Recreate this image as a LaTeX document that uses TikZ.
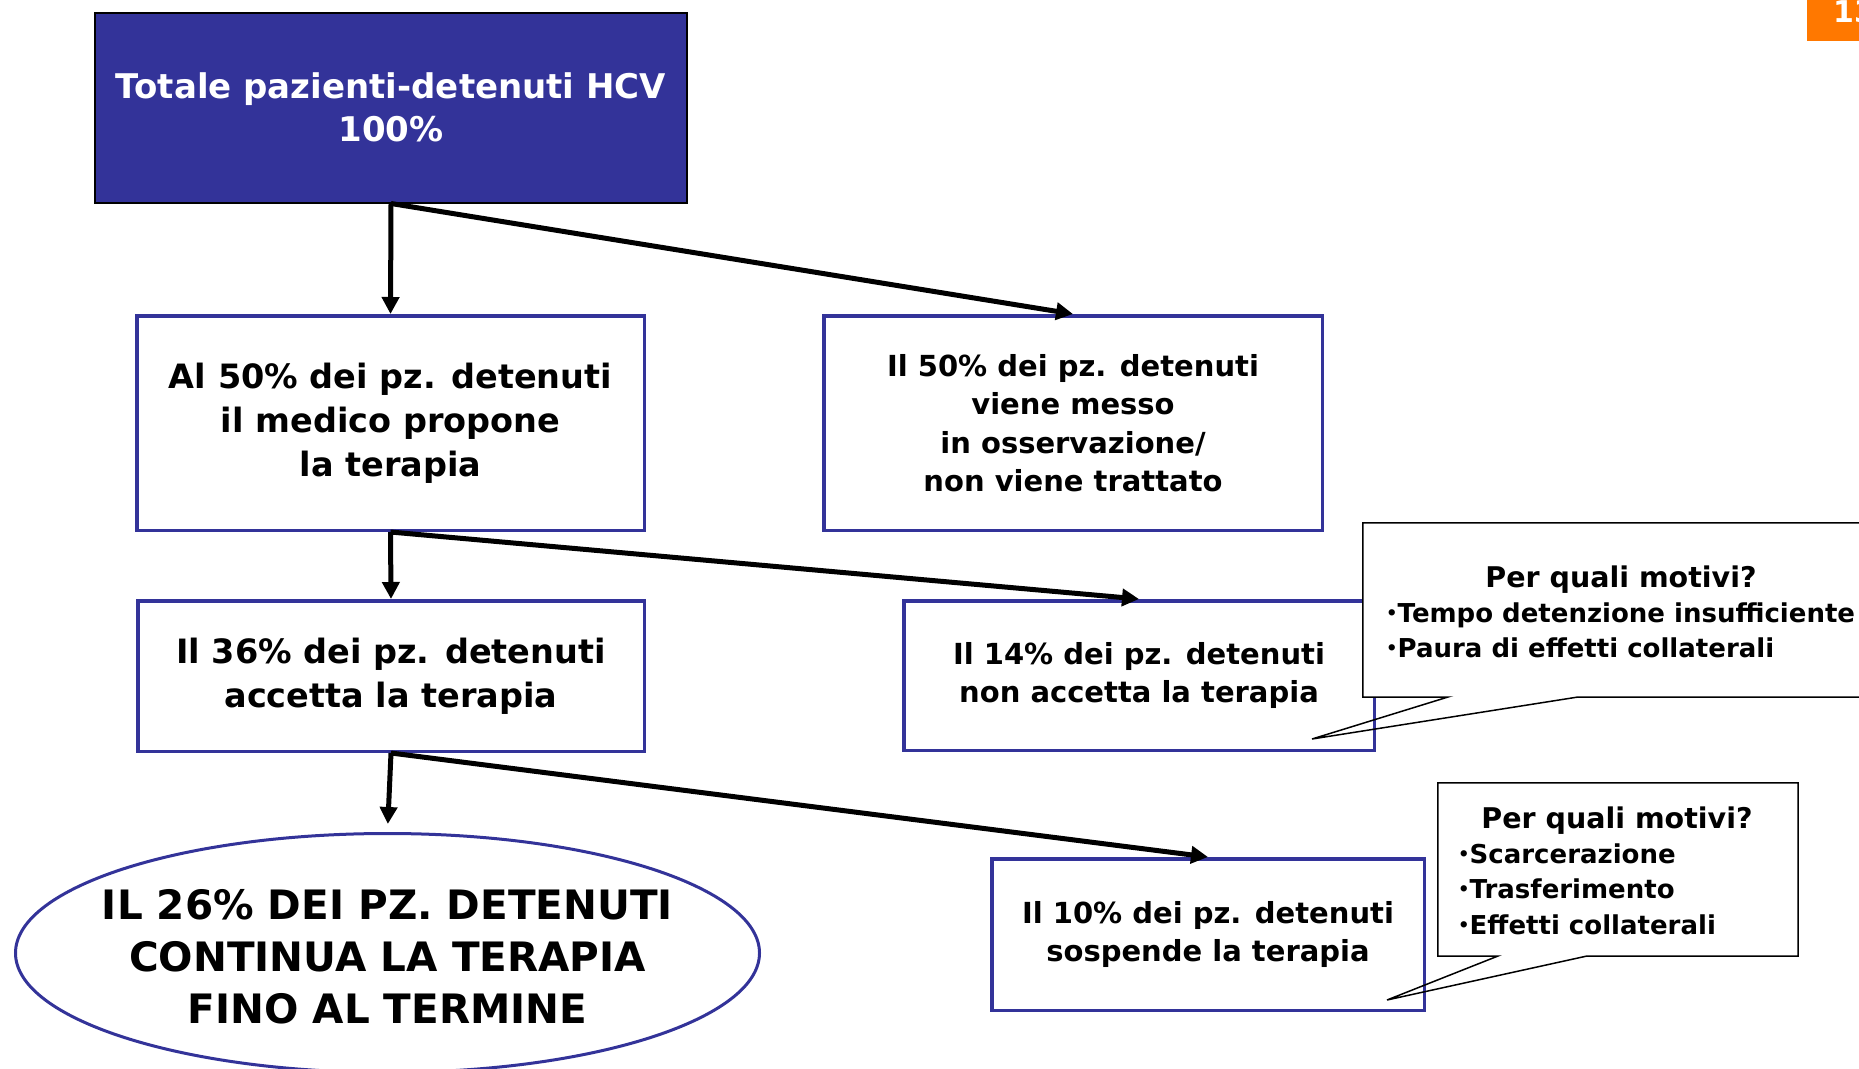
\documentclass[tikz,border=0pt]{standalone}
\usepackage{fontspec}
\setmainfont{DejaVu Sans}
\usetikzlibrary{arrows.meta,shapes.geometric}
\definecolor{hcvblue}{RGB}{51,51,153}
\definecolor{slideorange}{RGB}{255,120,0}
\newcommand\sbul{\raisebox{2.8pt}{\fontsize{18}{18}\selectfont•}}
\begin{document}
\begin{tikzpicture}[x=1pt,y=-1pt,
  box/.style={draw=hcvblue, line width=3.5pt, fill=white, align=center, inner sep=0pt,
    font=\bfseries\fontsize{33.5}{44}\selectfont},
  smallbox/.style={box, font=\bfseries\fontsize{29}{38.5}\selectfont},
  conn/.style={line width=5pt, -{Triangle[length=17pt,width=17pt]}},
  callout/.style={fill=white, draw=none, inner sep=0pt},
  callline/.style={draw=black, line width=1.5pt, line join=miter},
  calltitle/.style={font=\bfseries\fontsize{28.5}{35}\selectfont, inner sep=0pt},
  calltext/.style={font=\bfseries\fontsize{26}{35}\selectfont, inner sep=0pt}
]
\useasboundingbox (0,0) rectangle (1859,1068);
\clip (0,0) rectangle (1859,1068);

% page number tab
\node[fill=slideorange, draw=none, inner sep=0pt, minimum width=70pt, minimum height=41pt, anchor=north west] (pg) at (1807,0) {};
\node[text=white, font=\bfseries\fontsize{30}{30}\selectfont, inner sep=0pt, anchor=base west] (pgnum) at (1833,23) {13};

% boxes
\node[draw=black, line width=2pt, fill=hcvblue, text=white, align=center, inner sep=0pt,
  minimum width=592pt, minimum height=190pt, font=\bfseries\fontsize{34}{43}\selectfont]
  (top) at (391,107.5) {Totale pazienti-detenuti HCV\\100\%};

\node[box, minimum width=507.5pt, minimum height=214.5pt] (b2) at (390.5,423)
  {Al 50\% dei pz. detenuti\\il medico propone\\la terapia};
\node[smallbox, minimum width=498.5pt, minimum height=214.5pt] (b3) at (1073,423)
  {Il 50\% dei pz. detenuti\\viene messo\\in osservazione/\\non viene trattato};
\node[box, minimum width=506.5pt, minimum height=150.5pt] (b4) at (391,676)
  {Il 36\% dei pz. detenuti\\accetta la terapia};
\node[smallbox, minimum width=470.5pt, minimum height=149.5pt] (b5) at (1139,675.5)
  {Il 14\% dei pz. detenuti\\non accetta la terapia};
\node[smallbox, minimum width=432.5pt, minimum height=151.5pt] (b6) at (1208,934.5)
  {Il 10\% dei pz. detenuti\\sospende la terapia};

\node[ellipse, draw=hcvblue, line width=3pt, fill=white, inner sep=0pt,
  minimum width=744pt, minimum height=239pt] (ell) at (387.5,953) {};
\node[align=center, inner sep=0pt, font=\bfseries\fontsize{40.5}{52}\selectfont] (ellt) at (387.5,957)
  {IL 26\% DEI PZ. DETENUTI\\CONTINUA LA TERAPIA\\FINO AL TERMINE};

% connectors
\draw[conn] (top.south) -- (b2.north);
\draw[conn] (top.south) -- (b3.north);
\draw[conn] (b2.south) -- (b4.north);
\draw[conn] (b2.south) -- (b5.north);
\draw[conn, shorten >=8pt] (b4.south) -- (ell.north);
\draw[conn] (b4.south) -- (b6.north);

% callout 1
\node[callout, minimum width=516pt, minimum height=174pt] (co1) at (1621,610) {};
\coordinate (co1a) at (1448,697);
\coordinate (co1b) at (1578,697);
\coordinate (co1tip) at (1312,739);
\draw[callline] (co1.north west) -- (co1.south west) -- (co1a) -- (co1tip) -- (co1b)
  -- (co1.south east) -- (co1.north east) -- cycle;
\node[calltitle, anchor=base] (co1t) at (1621,587) {Per quali motivi?};
\node[calltext, anchor=base west] (co1l1) at (1386,622) {\sbul Tempo detenzione insufficiente};
\node[calltext, anchor=base west] (co1l2) at (1386,657) {\sbul Paura di effetti collaterali};

% callout 2
\node[callout, minimum width=360pt, minimum height=173pt] (co2) at (1618,869.5) {};
\coordinate (co2a) at (1498,956);
\coordinate (co2b) at (1587,956);
\coordinate (co2tip) at (1387,1000);
\draw[callline] (co2.north west) -- (co2.south west) -- (co2a) -- (co2tip) -- (co2b)
  -- (co2.south east) -- (co2.north east) -- cycle;
\node[calltitle, anchor=base] (co2t) at (1617,828) {Per quali motivi?};
\node[calltext, anchor=base west] (co2l1) at (1458,863) {\sbul Scarcerazione};
\node[calltext, anchor=base west] (co2l2) at (1458,898) {\sbul Trasferimento};
\node[calltext, anchor=base west] (co2l3) at (1458,934) {\sbul Effetti collaterali};
\end{tikzpicture}
\end{document}
